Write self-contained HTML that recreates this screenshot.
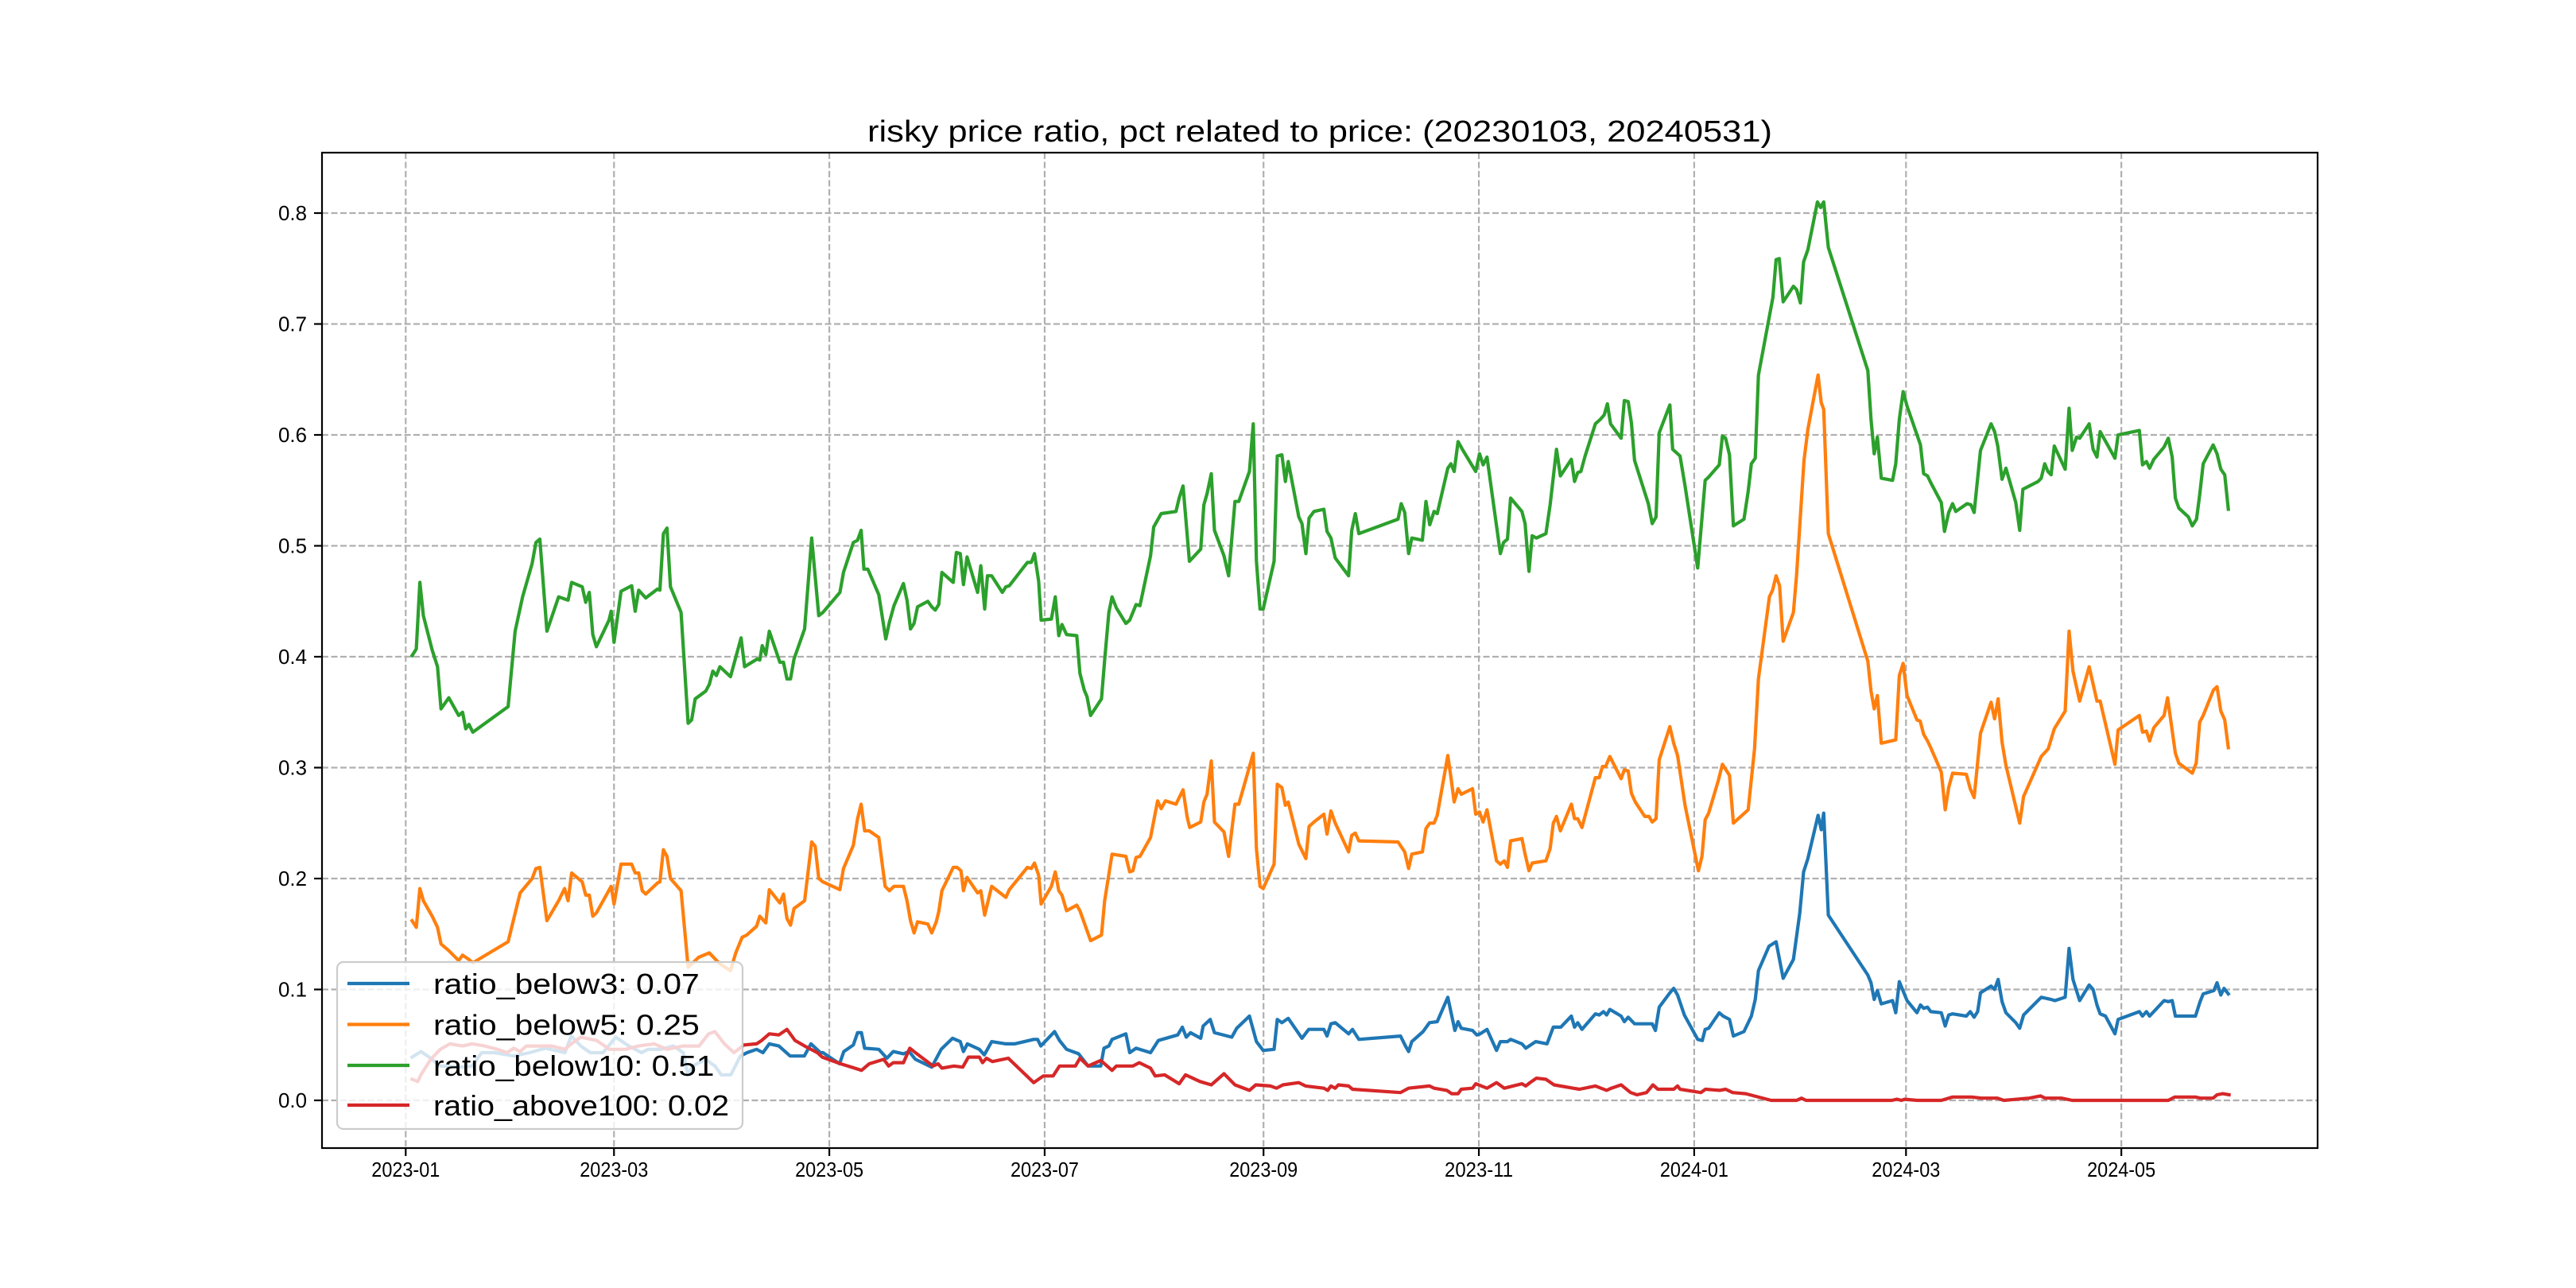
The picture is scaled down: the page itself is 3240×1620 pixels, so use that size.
<!DOCTYPE html>
<html><head><meta charset="utf-8"><style>
html,body{margin:0;padding:0;background:#fff;}
svg{display:block;}
text{font-family:"Liberation Sans","WenQuanYi Zen Hei",sans-serif;fill:#000;}
</style></head><body>
<svg id="chart" width="3240" height="1620" viewBox="0 0 3240 1620" xmlns="http://www.w3.org/2000/svg">
<rect x="0" y="0" width="3240" height="1620" fill="#fff"/>
<text x="1660" y="178" text-anchor="middle" font-size="38" textLength="1138" lengthAdjust="spacingAndGlyphs">risky price ratio, pct related to price: (20230103, 20240531)</text>
<g id="grid"></g>
<g id="series"></g>
<rect x="405" y="192" width="2510" height="1252" fill="none" stroke="#000" stroke-width="2.2"/>
<g id="ticks"></g>
<g id="legend"></g>
</svg>
<script>
const xTickLabels = ["2023-01","2023-03","2023-05","2023-07","2023-09","2023-11","2024-01","2024-03","2024-05"];
const xTickDays = [0,59,120,181,243,304,365,425,486];
const yTickValues = [0,0.1,0.2,0.3,0.4,0.5,0.6,0.7,0.8];
const yTickLabels = ["0.0","0.1","0.2","0.3","0.4","0.5","0.6","0.7","0.8"];
const seriesNames = ["ratio_below3","ratio_below5","ratio_below10","ratio_above100"];
const legendValues = ["0.07","0.25","0.51","0.02"];
const seriesColors = ["#1f77b4","#ff7f0e","#2ca02c","#d62728"];

const below10Days = [1.8,3,4,5,7.5,9,10,12.2,15,16.1,17,17.9,19,29,31,33.1,35.8,36.9,38,40,43.3,46,47,50,51,52,53,54,57.6,58.2,59,61,64,65,66,68,71.3,72,73,74,75,78,80,81,82,85,86,87,88,89,92,95,96,99.6,100.3,101,102,103,106,107,108,109,110,113,115,117,
118.2,123,124,126.8,128,129,129.8,130.9,134,136,137,138.3,141,142,143,144,145,147.9,149,150,151,151.9,155.1,156,157.1,158,159,162,162.9,164,164.8,166,169,170,171,176.1,177.2,178.1,179.3,180,182.9,184,185,185.9,187.2,190.1,191,192.2,193,194,197.1,198,199.2,200.1,201.3,204,205.1,206.9,208,211,211.9,214,218.2,219.1,220.2,222,225.2,226.1,227,228.2,229.1,231.8,233.1,234.9,236,239,240.1,241,242,242.9,246,246.9,248.2,249.2,250,253,253.9,255,255.9,257.3,260.1,
261,262.1,263.3,267.1,268,269,270,281.1,282,283,284.1,285,288,289,290.1,291.3,292.2,295.2,296.1,297,298.1,299.5,303.1,304.2,305.2,306.3,310.1,311,312.1,313,316.2,317.1,318.2,319.1,320.3,323,324.2,326,327.1,330.2,331.1,332,332.9,334.1,337,338.4,339.5,340.4,341.3,344.3,345.2,346.3,347.2,348.1,352,353.1,354.2,355.1,358.1,358.9,361,362.4,366,368.1,369.1,372.1,373,373.9,375,376.1,379.1,380.3,381.2,382.3,383.2,387.3,388.2,389.1,390.2,393.1,394,395.1,396,397.2,399.9,400.8,401.7,
403,414.2,415.1,416,416.9,418,421.2,422.1,423.1,424.2,425.3,429.1,430,431.1,432,435,435.9,437.1,438.2,439.1,442.3,443.4,444.3,446.1,449.1,450.1,451,452.2,453.3,456.1,457.2,458.1,462.4,463.3,464.3,465.2,466.1,467,470.1,471.2,472.1,473.3,474.2,476.9,478,479.1,480,484.2,485.1,491.1,492,493.1,494,495.2,498.1,499.3,500.4,501.3,502.3,505,506.1,507.3,508.2,509.2,512,513.1,514.2,515.3,516.3];
const below10Values = [.401,.407,.467,.437,.406,.391,.353,.363,.347,.350,.335,.339,.332,.355,.423,.454,.484,.503,.506,.423,.454,.451,.467,.463,.449,.458,.420,.409,.433,.441,.413,.459,.464,.441,.46,.453,.461,.46,.511,.516,.463,.44,.34,.343,.362,.369,.375,.387,.383,.391,.382,.417,.391,.398,.397,.41,.402,.423,.395,.395,.38,.38,.398,.425,.507,.437,
.44,.458,.476,.503,.505,.514,.479,.479,.456,.416,.431,.446,.466,.451,.425,.43,.445,.45,.445,.442,.447,.476,.467,.494,.493,.465,.49,.458,.482,.443,.473,.473,.458,.463,.464,.485,.485,.493,.468,.433,.434,.454,.419,.429,.42,.419,.385,.37,.364,.347,.362,.397,.44,.454,.444,.43,.433,.447,.446,.491,.517,.529,.531,.543,.554,.486,.497,.537,.547,.565,.514,.491,.473,.54,.54,.567,.61,.486,.443,.443,.486,.581,.582,.558,.576,.526,.52,.493,.525,.531,.533,
.513,.507,.489,.473,.514,.529,.511,.524,.538,.53,.493,.507,.505,.54,.519,.531,.529,.57,.574,.567,.594,.586,.567,.583,.573,.58,.493,.503,.506,.543,.531,.52,.477,.509,.507,.511,.537,.587,.563,.578,.558,.566,.567,.581,.61,.614,.618,.628,.61,.597,.631,.63,.611,.577,.538,.52,.526,.602,.627,.587,.581,.554,.48,.559,.562,.573,.599,.597,.582,.518,.524,.549,.574,.579,.654,.724,.758,.759,.72,.734,.731,.719,.756,.767,.81,.805,.81,
.769,.658,.614,.583,.598,.561,.559,.574,.614,.639,.626,.591,.565,.563,.557,.539,.513,.53,.538,.531,.538,.537,.53,.586,.61,.603,.59,.56,.57,.539,.514,.551,.558,.561,.574,.567,.564,.59,.569,.624,.586,.598,.597,.61,.587,.58,.603,.579,.6,.604,.573,.576,.57,.578,.589,.597,.58,.543,.534,.526,.518,.524,.546,.574,.591,.583,.569,.564,.533];

const below5Days = [1.8,3,4,5,7.5,9,10,12.2,15,16.1,17.9,19,29,32.4,35.8,36.9,38,40,43.3,45,46,47,50,51,52,53,54,58.2,59,61,64,65,66,67,68,71.3,72,73,74,75,78,80,83,86,89,92,93.5,95.3,96.6,99.4,100.3,102,103,106,107,108,109,110,113,115,116,117,
118.2,123,124,126.8,128,129,130,131.3,134,135.8,137,138.3,141,142,143,144,145,147.9,149,150.3,151,151.9,155.1,156.2,157.3,158,159,162,162.9,164,166,170,171,176.1,177.2,178.1,179.3,180,182.9,184,185,185.9,187.2,190.1,191,194,197.1,198,200.1,204,205.1,206,206.9,208,211,213,214,215.2,218.2,220.2,221.4,222.1,225.2,226.1,227,228.2,229.1,231.8,233.1,234.9,236,240.1,241,242,242.9,246,246.9,248.2,249.2,250,253,255,255.9,257.3,260.1,
261,262.1,263.3,267.1,268,269,270,281.1,283,284.1,285,288,289,290.1,291.3,292.2,295.2,296.1,297,298.1,299,302.2,303.1,304.2,305.2,306.3,309,310.1,311.2,312.1,313,316.2,317.1,318.2,319.1,323,324.2,325.1,326,327.1,330.2,331.1,332,333.2,337,338.1,339,339.9,341.1,344.3,345.2,346.3,347.2,348.3,351,352.2,353.1,354.2,355.1,358.1,359.2,360.3,362.4,366.2,367.2,368.1,369.1,371.9,373,375,376.1,380.3,382.1,383.2,386.3,387.2,388.2,389.2,390.2,393.1,394,396.1,397.2,400.1,401,401.7,
403,414.2,415.1,416,416.9,418,422.1,423.1,424.2,425.3,428.1,429,430,431.1,432,435,436.1,437.1,438.2,442.1,443.2,444.3,446.1,449.1,450.1,451.1,452.2,453.3,457.2,458.3,463.3,465.3,467,470.1,471.2,472.3,474.2,476.9,479.1,480,484.2,485.1,491.1,492,493.1,494,495.2,498.1,499.1,501.3,502.3,506.1,507.2,508.2,509.2,512.1,513.1,514.2,515.3,516.3];
const below5Values = [.162,.156,.191,.18,.166,.156,.141,.135,.126,.131,.127,.124,.143,.187,.2,.209,.21,.162,.18,.191,.18,.205,.197,.185,.185,.166,.169,.193,.177,.213,.213,.205,.205,.189,.186,.196,.197,.226,.22,.2,.189,.12,.129,.133,.123,.117,.133,.147,.149,.157,.166,.16,.19,.178,.186,.164,.158,.173,.18,.233,.229,.2,
.197,.19,.209,.23,.254,.267,.243,.243,.237,.193,.189,.193,.193,.18,.162,.151,.161,.159,.151,.161,.17,.189,.21,.21,.207,.189,.201,.187,.189,.167,.193,.183,.19,.21,.209,.214,.203,.177,.193,.206,.189,.185,.171,.176,.171,.144,.149,.18,.222,.22,.206,.207,.219,.22,.237,.27,.263,.27,.267,.28,.255,.246,.251,.269,.276,.306,.251,.242,.22,.267,.267,.313,.227,.193,.191,.213,.285,.282,.266,.269,.231,.218,.247,.251,.258,
.24,.261,.25,.224,.239,.241,.234,.233,.224,.209,.222,.224,.245,.25,.25,.257,.311,.291,.269,.281,.276,.281,.258,.26,.251,.262,.216,.213,.216,.21,.234,.236,.222,.207,.214,.216,.227,.25,.256,.243,.267,.254,.254,.246,.291,.291,.301,.301,.31,.29,.298,.297,.277,.269,.256,.256,.251,.254,.307,.337,.322,.311,.266,.207,.22,.253,.259,.289,.303,.293,.25,.262,.317,.38,.454,.46,.473,.464,.414,.44,.474,.577,.605,.654,.629,.623,
.511,.396,.369,.353,.365,.322,.325,.383,.394,.365,.343,.342,.33,.324,.318,.296,.262,.282,.295,.294,.281,.273,.331,.359,.344,.362,.323,.302,.25,.274,.31,.317,.335,.351,.423,.387,.36,.391,.36,.36,.303,.334,.347,.332,.333,.324,.336,.347,.363,.313,.304,.295,.304,.341,.347,.37,.373,.351,.343,.318];

const below3Days = [1.8,4.3,7.1,9.8,16.1,18.8,21.5,25.2,30.6,35.1,39.6,45.1,46.9,49.6,52.3,55.9,59.5,63.2,66.8,68.6,72.2,75.8,78.6,79.9,81.3,84.9,87.6,89.4,92.1,94.8,96.7,99.4,101.2,103,105.7,108.9,112.9,114.8,117.5,
118.2,122.9,124.1,126.8,128,129.1,130,134,136.3,138.1,141,142.6,144.4,149,151.7,154.9,157.1,158,159.1,162.5,163.9,166,170,172.5,177.9,179,179.9,183.8,185.2,187.2,190.6,193.3,196.9,197.8,199.2,200.1,204,205.1,206.9,211,213.2,218.7,220,221.1,222.3,225.2,225.9,227.9,229.1,234,235.4,239,241,242.9,246,246.9,248.2,250,253.9,255.8,260.1,
261,262.1,263.3,267.1,268.2,270,281.8,283.2,284.1,285,288.2,290,292.2,295.2,297.2,298.1,299,302.2,303.4,304.4,306.3,309,310.1,312.1,313,316.2,317.3,320.1,323.3,325.1,327.2,330.2,331.1,332,333.2,337,338.1,339.3,340.2,341.1,344.3,345.2,346.3,348.1,353.1,354,355.1,358.1,359.2,360.3,362.2,366,367.3,368.1,369.1,372.1,373.2,375,376.1,379.1,381.2,382.3,383.2,386.2,388.2,390.2,393.1,394.9,396,397.2,400.1,401,401.7,
403,414.2,415.1,416,416.9,418,421.2,422.1,423.1,425.3,428.1,429.1,430,431.1,432,435,436.1,437.1,438.2,442.1,443.2,444.3,445.3,446.1,449.1,450.1,451.1,452.2,453.3,456.1,457.2,458.3,463.3,466.1,467.2,470.1,471.2,472.3,474.2,476.9,478,479.1,480,481.5,484.2,485.1,491.1,492,493.1,494,498.1,499.3,500.4,501.3,507,508.3,509.2,512.2,513.1,514.2,515.1,516.3];
const below3Values = [.039,.044,.038,.031,.03,.031,.043,.043,.04,.043,.047,.043,.058,.049,.043,.043,.057,.049,.043,.046,.046,.049,.043,.023,.031,.037,.031,.023,.023,.04,.043,.046,.043,.051,.049,.04,.04,.051,.043,
.043,.033,.044,.05,.061,.061,.047,.046,.038,.044,.042,.044,.037,.03,.046,.056,.053,.044,.051,.046,.041,.053,.051,.051,.055,.055,.049,.062,.054,.046,.042,.031,.031,.047,.049,.055,.06,.043,.047,.043,.054,.059,.066,.057,.061,.056,.067,.073,.061,.057,.065,.076,.053,.045,.046,.073,.07,.074,.056,.064,.064,
.058,.069,.07,.06,.064,.055,.058,.049,.044,.053,.062,.07,.071,.093,.063,.071,.065,.063,.059,.06,.064,.045,.053,.053,.055,.051,.047,.053,.051,.066,.066,.076,.066,.07,.064,.078,.077,.08,.077,.082,.076,.071,.075,.069,.069,.063,.084,.097,.101,.095,.077,.055,.054,.064,.065,.079,.076,.073,.058,.062,.076,.091,.117,.139,.143,.11,.127,.169,.206,.218,.257,.244,.259,
.167,.113,.106,.091,.099,.087,.09,.079,.107,.09,.079,.086,.083,.084,.08,.079,.067,.077,.078,.076,.08,.075,.08,.097,.103,.1,.109,.089,.079,.07,.065,.077,.093,.091,.09,.093,.137,.109,.09,.104,.1,.086,.078,.076,.06,.073,.08,.076,.08,.076,.09,.089,.09,.076,.076,.089,.096,.099,.106,.095,.101,.096];

const above100Days = [1.8,3.4,4.3,7.1,9.8,12.5,16.1,18.8,22.4,26,28.7,30.6,32.4,34.2,37.8,41.4,45.1,46.9,49.6,54.1,57.7,62.3,65.9,70.4,74,78.6,83.1,85.8,87.6,90.3,93,95.8,99.4,100.8,103,105.7,108,110.3,113,114.8,116.6,118,
123.2,127.2,129.1,131.3,135.4,136.8,138.1,141,142.8,144.4,148.1,149.4,150.8,151.9,155.3,157.8,159.4,162.5,163.4,164.5,166.2,170.7,177.9,180.6,183.4,185.2,189.7,191,193.3,196.9,200.1,201.3,206,207.8,211,212.3,215,219.1,220.9,225,228.2,231.8,234.9,239,240.8,244.9,246.7,248.5,253,254.9,260.1,
261.2,262.1,263.3,264.2,267.1,268.2,281.8,284.1,290,291.3,294.9,296.3,298.1,299,302.2,303.1,306.3,309,311.2,316.2,317.3,318.5,320.3,323,325.3,330.7,332.5,337,340.2,341.5,344.3,347,348.8,351.5,353.3,354.7,359.2,360.3,361,366.9,368.2,372.2,373.9,375.9,379.6,386.8,394,395.4,396.7,401.7,
421,422.4,423.7,424.6,428.2,435,438.2,443.6,446.3,450.9,452.7,459.9,463.1,464.4,469,472.1,480.7,487.1,492.5,499.3,501.1,507,508.3,512,513.1,514.7,516.5];
const above100Values = [.019,.017,.023,.037,.046,.051,.049,.051,.049,.046,.043,.047,.044,.049,.049,.049,.046,.051,.057,.054,.046,.046,.049,.051,.046,.049,.049,.06,.062,.051,.043,.05,.051,.054,.06,.059,.064,.054,.049,.046,.043,.039,
.033,.029,.027,.033,.037,.031,.034,.034,.047,.043,.034,.031,.033,.029,.031,.03,.039,.039,.034,.038,.035,.038,.016,.022,.022,.031,.031,.038,.031,.036,.027,.031,.031,.034,.029,.022,.023,.015,.023,.017,.014,.024,.014,.009,.014,.013,.011,.014,.016,.013,.011,
.009,.013,.011,.014,.013,.01,.007,.011,.013,.011,.009,.006,.006,.01,.011,.015,.011,.016,.011,.015,.013,.016,.02,.019,.014,.011,.01,.013,.009,.011,.014,.007,.005,.007,.014,.01,.01,.013,.01,.007,.01,.009,.01,.007,.006,0,0,.002,0,0,
0,.001,0,.001,0,0,.003,.003,.002,.002,0,.002,.004,.002,.002,0,0,0,0,0,.003,.003,.002,.002,.005,.006,.005];

const NS = "http://www.w3.org/2000/svg";
const X0 = 405, X1 = 2915, Y0 = 192, Y1 = 1444;
function xScale(d){ return 510.3 + 4.44 * d; }
function yScale(v){ return 1384 - 1395 * v; }
function mk(tag, attrs, parent){
  const e = document.createElementNS(NS, tag);
  for (const k in attrs) e.setAttribute(k, attrs[k]);
  parent.appendChild(e);
  return e;
}
const grid = document.getElementById('grid');
const ticks = document.getElementById('ticks');
xTickDays.forEach((d, i) => {
  const x = xScale(d);
  const g = mk('line', {x1:x, x2:x, y1:Y0, y2:Y1, stroke:'#b0b0b0', 'stroke-width':2.2, 'stroke-dasharray':'8 3.5'}, grid);
  
  
  const t = mk('line', {x1:x, x2:x, y1:Y1, y2:Y1+10, stroke:'#000', 'stroke-width':2.2}, ticks);
  
  
  const lb = mk('text', {x:x, y:1480, 'text-anchor':'middle', 'font-size':26, textLength:86, lengthAdjust:'spacingAndGlyphs'}, ticks);
  lb.textContent = xTickLabels[i];
  
  
});
yTickValues.forEach((v, i) => {
  const y = yScale(v);
  const g = mk('line', {x1:X0, x2:X1, y1:y, y2:y, stroke:'#b0b0b0', 'stroke-width':2.2, 'stroke-dasharray':'8 3.5'}, grid);
  
  
  const t = mk('line', {x1:X0-10, x2:X0, y1:y, y2:y, stroke:'#000', 'stroke-width':2.2}, ticks);
  
  
  const lb = mk('text', {x:386, y:y+9, 'text-anchor':'end', 'font-size':26, textLength:36, lengthAdjust:'spacingAndGlyphs'}, ticks);
  lb.textContent = yTickLabels[i];
  
  
});
const seriesG = document.getElementById('series');
const allDays = [below3Days, below5Days, below10Days, above100Days];
const allVals = [below3Values, below5Values, below10Values, above100Values];
allDays.forEach((days, s) => {
  const vals = allVals[s];
  const pts = days.map((d, i) => xScale(d).toFixed(1) + ',' + yScale(vals[i]).toFixed(1)).join(' ');
  const pl = mk('polyline', {points:pts, fill:'none', stroke:seriesColors[s], 'stroke-width':4.2, 'stroke-linejoin':'round', 'stroke-linecap':'square'}, seriesG);
  
  
});
const legend = document.getElementById('legend');
const box = mk('rect', {x:424, y:1210, width:510, height:210, rx:8, fill:'#fff', 'fill-opacity':0.8, stroke:'#cccccc', 'stroke-width':2.2}, legend);


const rowY = [1237, 1288.5, 1340, 1390];
seriesNames.forEach((n, i) => {
  const h = mk('line', {x1:437, x2:515, y1:rowY[i], y2:rowY[i], stroke:seriesColors[i], 'stroke-width':4.2}, legend);
  
  
  const label = n + ': ' + legendValues[i];
  const t = mk('text', {x:545, y:rowY[i]+13, 'font-size':36, textLength:(label.length*18.6).toFixed(1), lengthAdjust:'spacingAndGlyphs'}, legend);
  t.textContent = label;
  
  
});
</script>
</body></html>
